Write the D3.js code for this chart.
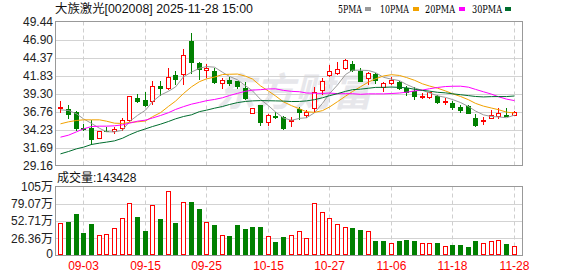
<!DOCTYPE html>
<html><head><meta charset="utf-8">
<script src="https://cdn.jsdelivr.net/npm/d3@7"></script>
<style>html,body{margin:0;padding:0;background:#fff;overflow:hidden}</style>
</head><body><svg id="c" width="578" height="276"></svg>
<script>
const title = "大族激光[002008] 2025-11-28 15:00";
const dates = ["08-29","09-01","09-02","09-03","09-04","09-05","09-08","09-09","09-10","09-11","09-12",
"09-15","09-16","09-17","09-18","09-19","09-22","09-23","09-24","09-25","09-26","09-29","09-30",
"10-09","10-10","10-13","10-14","10-15","10-16","10-17","10-20","10-21","10-22","10-23","10-24",
"10-27","10-28","10-29","10-30","10-31","11-03","11-04","11-05","11-06","11-07","11-10","11-11",
"11-12","11-13","11-14","11-17","11-18","11-19","11-20","11-21","11-24","11-25","11-26","11-27","11-28"];
const openP = [37.30,37.14,36.67,34.46,34.42,33.06,34.08,33.95,34.46,35.59,38.69,38.45,38.22,40.29,40.10,41.88,42.07,46.76,43.57,42.63,
42.40,40.80,41.22,40.99,40.05,36.58,37.61,35.26,36.11,35.97,35.45,37.05,36.25,37.28,39.82,41.93,42.21,42.87,43.48,42.44,
41.51,41.98,40.19,40.76,40.85,40.05,39.72,38.83,38.78,38.97,38.13,37.94,37.38,37.52,35.87,35.50,35.87,36.11,36.25,36.34];
const highP = [38.31,37.75,36.81,35.03,35.50,33.95,34.65,34.56,35.87,38.97,39.25,39.58,41.13,40.99,42.91,42.40,45.50,47.80,43.71,43.48,
42.87,41.46,41.60,41.13,40.90,37.30,37.70,36.44,36.67,36.11,36.06,37.38,37.00,40.19,41.50,43.34,43.71,44.18,43.81,42.91,
42.30,42.21,40.90,41.60,40.99,40.29,40.19,39.35,39.58,39.07,38.64,38.22,37.61,37.75,36.44,35.97,36.91,37.28,37.28,36.86];
const lowP = [36.67,35.87,34.09,34.09,32.12,33.06,33.95,33.71,34.09,35.36,38.17,37.47,37.84,39.02,39.96,40.66,40.66,42.16,41.37,41.60,
40.76,40.05,40.43,40.05,38.50,36.55,34.93,34.93,35.87,34.32,34.79,35.73,36.06,36.76,39.16,41.83,41.98,42.73,42.45,41.04,
40.57,40.76,39.63,40.61,39.96,39.02,38.50,38.64,38.69,37.99,37.84,37.05,36.67,36.53,34.79,35.03,35.83,35.87,36.11,36.25];
const closeP = [37.40,36.44,34.42,34.30,32.87,33.95,34.02,34.32,35.50,38.97,38.31,37.66,40.38,40.05,41.69,41.32,44.79,43.71,42.77,42.87,
40.90,41.22,40.76,40.38,38.69,37.28,35.26,36.30,35.97,34.46,35.59,36.67,36.72,39.49,41.13,42.40,42.77,44.04,42.54,41.13,
42.21,41.27,40.76,41.22,40.10,39.49,38.88,38.97,39.49,38.08,38.31,37.38,36.91,36.62,34.93,35.60,36.25,36.58,36.11,36.76];
const prevCloseBefore = 37.05;
// volume in 万手
const volume = [49.2,51.2,63.5,34.3,48.1,30.7,32.3,41.5,56.9,79.9,58.4,37.4,76.8,55.8,98.3,49.7,81.4,82.0,71.2,50.7,
46.6,30.7,29.7,46.6,40.5,43.5,43.5,29.2,20.5,28.2,30.7,36.9,26.6,79.9,66.1,56.9,47.6,43.0,42.0,38.9,
36.9,22.0,22.0,19.0,22.0,23.6,22.0,18.4,18.4,19.0,13.8,15.9,15.9,12.8,22.0,19.0,21.5,23.0,17.4,14.3428];
const ma5 = [37.00,36.91,36.44,35.73,35.09,34.40,33.91,33.89,34.13,35.35,36.22,36.95,38.16,39.07,39.62,40.22,41.65,42.31,42.86,43.09,
43.01,42.29,41.70,41.23,40.39,39.67,38.47,37.58,36.70,35.85,35.52,35.80,35.88,36.59,37.92,39.28,40.50,41.97,42.58,42.58,
42.54,42.24,41.58,41.32,41.11,40.57,40.09,39.73,39.39,38.98,38.75,38.45,38.03,37.46,36.83,36.29,36.06,36.00,35.89,36.26];
const ma10 = [35.03,35.31,35.50,35.59,35.59,35.59,35.40,35.12,35.08,35.22,35.31,35.43,36.03,36.60,37.49,38.22,39.30,40.24,40.97,41.36,
41.61,41.97,42.01,42.04,41.74,41.34,40.38,39.64,38.96,38.12,37.59,37.14,36.73,36.64,36.89,37.40,38.15,38.92,39.58,40.25,
40.91,41.37,41.77,41.95,41.84,41.55,41.16,40.66,40.35,40.05,39.66,39.27,38.88,38.42,37.91,37.52,37.25,37.02,36.68,36.55];
const ma20 = [33.15,33.43,33.90,34.32,34.65,34.70,34.70,34.75,34.89,35.12,35.40,35.55,35.85,36.20,36.60,37.05,37.45,37.80,38.05,38.29,
38.46,38.70,39.02,39.32,39.61,39.78,39.84,39.94,39.96,39.74,39.60,39.55,39.37,39.34,39.31,39.37,39.27,39.28,39.27,39.19,
39.25,39.25,39.25,39.30,39.37,39.48,39.66,39.79,39.97,40.15,40.28,40.32,40.33,40.19,39.88,39.54,39.21,38.84,38.51,38.30];
const ma30 = [30.80,31.13,31.51,31.74,32.12,32.31,32.45,32.63,33.00,33.48,33.95,34.32,34.65,34.98,35.36,35.73,36.06,36.30,36.75,36.95,
37.23,37.47,37.75,38.02,38.18,38.26,38.30,38.28,38.26,38.23,38.17,38.18,38.26,38.43,38.70,38.99,39.28,39.60,39.84,39.91,
40.04,40.16,40.17,40.21,40.16,40.10,39.90,39.74,39.63,39.47,39.39,39.26,39.13,39.00,38.88,38.82,38.86,38.87,38.87,38.95];
const priceTicks = [29.16,31.69,34.23,36.76,39.30,41.83,44.37,46.90,49.44];
const volTicks = [0,26.36,52.71,79.07,105];
const volTickLabels = ["0","26.36万","52.71万","79.07万","105万"];
const xTickDates = ["09-03","09-15","09-25","10-15","10-27","11-06","11-18","11-28"];
const legendNames = ["5PMA","10PMA","20PMA","30PMA"];
const maColors = ["#9a9a9a","#f2a200","#ff00ff","#006d2e"];
const maSeries = [ma5, ma10, ma20, ma30];

const RED = "#ff0000", GREEN = "#008000";
const FONT = "'Liberation Sans', Arial, 'Noto Sans CJK SC', sans-serif";
const L = 55.5, R = 522.5, T = 21.5, B = 165.5, VT = 186.5, VB = 255.5;

const svg = d3.select("#c");
const x = d3.scaleBand().domain(dates).range([56.3, 56.3 + 7.69 * dates.length]);
const cx = d => Math.round(x(d) + x.bandwidth() / 2);
const y = d3.scaleLinear().domain([priceTicks[0], priceTicks[priceTicks.length - 1]]).range([B, T]);
const vy = d3.scaleLinear().domain([0, 105]).range([VB, VT]);
const px = v => Math.round(v) + 0.5;

// title
svg.append("text").attr("x", 55).attr("y", 13).attr("font-family", FONT).attr("font-size", 12)
  .attr("fill", "#111").attr("textLength", 198).attr("lengthAdjust", "spacingAndGlyphs").text(title);

// legend
const legX = [338, 380, 425, 472], legW = [24, 29, 30, 30], sqX = [365, 413, 459, 505];
legendNames.forEach((n, i) => {
  svg.append("text").attr("x", legX[i]).attr("y", 12.5).attr("font-family", "'DejaVu Serif', 'Liberation Serif', serif")
    .attr("font-size", 11.5).attr("fill", "#000").attr("textLength", legW[i]).attr("lengthAdjust", "spacingAndGlyphs").text(n);
  svg.append("rect").attr("x", sqX[i]).attr("y", 7).attr("width", 6).attr("height", 4).attr("fill", maColors[i]);
});

// watermark
svg.append("text").attr("x", 216).attr("y", 106).attr("font-family", "'Noto Sans CJK SC', sans-serif")
  .attr("font-size", 39).attr("font-weight", "bold").attr("font-style", "italic").attr("fill", "#e7e7eb").text("东方财富");

// horizontal grids
svg.append("g").selectAll("line").data(priceTicks.slice(1, -1)).join("line")
  .attr("x1", L).attr("x2", R).attr("y1", d => px(y(d))).attr("y2", d => px(y(d)))
  .attr("stroke", "#d3d3d3").attr("stroke-width", 1);
svg.append("g").selectAll("line").data(volTicks.slice(1, -1)).join("line")
  .attr("x1", L).attr("x2", R).attr("y1", d => px(vy(d))).attr("y2", d => px(vy(d)))
  .attr("stroke", "#d3d3d3").attr("stroke-width", 1);
// vertical dashed grids
[[T, B], [VT, VB]].forEach(([a, b]) => {
  svg.append("g").selectAll("line").data(xTickDates).join("line")
    .attr("x1", d => cx(d) + 0.5).attr("x2", d => cx(d) + 0.5).attr("y1", a).attr("y2", b)
    .attr("stroke", "#cfcfcf").attr("stroke-dasharray", "4,3");
});

// frames
svg.append("rect").attr("x", L).attr("y", T).attr("width", R - L).attr("height", B - T)
  .attr("fill", "none").attr("stroke", "#999");
svg.append("rect").attr("x", L).attr("y", VT).attr("width", R - L).attr("height", VB - VT)
  .attr("fill", "none").attr("stroke", "#999");

// candles
const idx = d3.range(dates.length);
const cg = svg.append("g");
idx.forEach(i => {
  const c = cx(dates[i]);
  const up = closeP[i] > openP[i];
  const col = up ? RED : GREEN;
  cg.append("line").attr("x1", c + 0.5).attr("x2", c + 0.5)
    .attr("y1", Math.round(y(highP[i]))).attr("y2", Math.round(y(lowP[i])) + 1)
    .attr("stroke", col).attr("stroke-width", 1);
  const yt = Math.round(y(Math.max(openP[i], closeP[i])));
  const yb = Math.round(y(Math.min(openP[i], closeP[i])));
  if (up) {
    cg.append("rect").attr("x", c - 1.5).attr("y", yt + 0.5).attr("width", 4).attr("height", Math.max(1, yb - yt))
      .attr("fill", "#fff").attr("stroke", RED).attr("stroke-width", 1);
  } else {
    cg.append("rect").attr("x", c - 2).attr("y", yt).attr("width", 5).attr("height", Math.max(1, yb - yt + 1))
      .attr("fill", GREEN);
  }
});

// MA lines
maSeries.forEach((s, k) => {
  const line = d3.line().x((d, i) => cx(dates[i]) + 0.5).y(d => y(d));
  svg.append("path").datum(s).attr("d", line).attr("fill", "none")
    .attr("stroke", maColors[k]).attr("stroke-width", 1);
});

// volume bars (colour by close vs previous close)
const vg = svg.append("g");
idx.forEach(i => {
  const c = cx(dates[i]);
  const prev = i === 0 ? prevCloseBefore : closeP[i - 1];
  const up = closeP[i] >= prev;
  const top = Math.round(vy(volume[i]));
  if (up) {
    vg.append("rect").attr("x", c - 1.5).attr("y", top + 0.5).attr("width", 4).attr("height", 255 - top - 1)
      .attr("fill", "#fff").attr("stroke", RED);
  } else {
    vg.append("rect").attr("x", c - 2).attr("y", top).attr("width", 5).attr("height", 255 - top)
      .attr("fill", GREEN);
  }
});

// y axis labels (price)
svg.append("g").selectAll("text").data(priceTicks).join("text")
  .attr("x", 53).attr("y", d => y(d) + 4.5).attr("text-anchor", "end")
  .attr("font-family", FONT).attr("font-size", 12).attr("fill", "#222")
  .text(d => d.toFixed(2));
// y axis labels (volume)
svg.append("g").selectAll("text").data(volTicks).join("text")
  .attr("x", 53).attr("y", (d, i) => vy(d) + (i === 0 ? 2.5 : 4.5)).attr("text-anchor", "end")
  .attr("font-family", FONT).attr("font-size", 12).attr("fill", "#222")
  .text((d, i) => volTickLabels[i]);

// volume title
svg.append("text").attr("x", 57).attr("y", 182).attr("font-family", FONT).attr("font-size", 12)
  .attr("fill", "#111").text("成交量:" + Math.round(volume[volume.length - 1] * 10000));

// x labels
svg.append("g").selectAll("text").data(xTickDates).join("text")
  .attr("x", d => cx(d) + 0.5).attr("y", 269.5).attr("text-anchor", "middle")
  .attr("font-family", FONT).attr("font-size", 12).attr("fill", RED).text(d => d);
</script></body></html>
